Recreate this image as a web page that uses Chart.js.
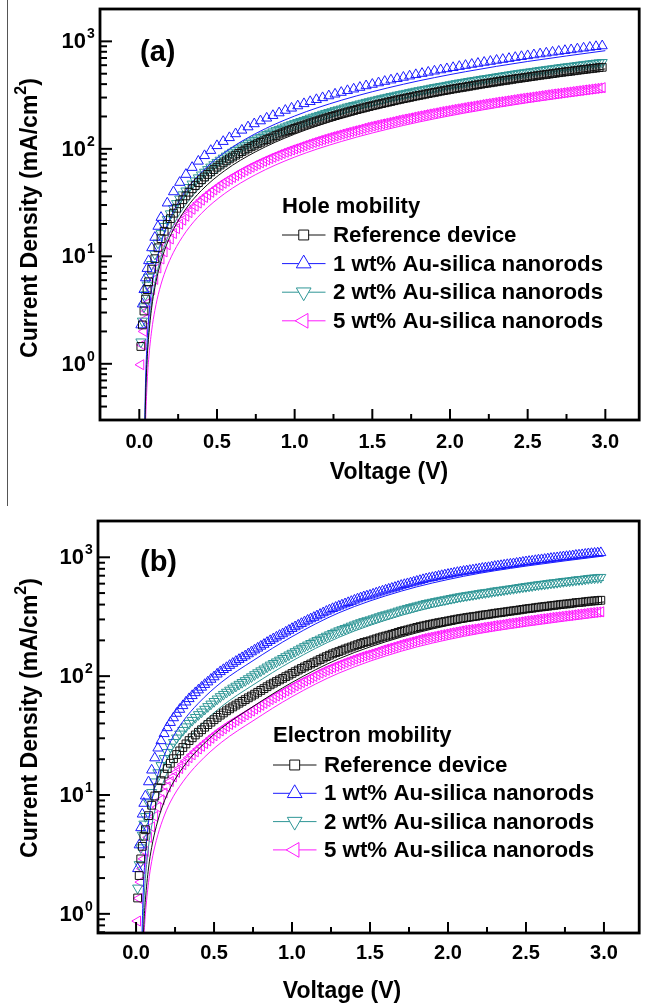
<!DOCTYPE html>
<html>
<head>
<meta charset="utf-8">
<script src="https://cdn.jsdelivr.net/npm/chart.js@4/dist/chart.umd.min.js"></script>
<style>
body { margin: 0; background: #fff; width: 646px; height: 1005px; position: relative; overflow: hidden; }
canvas { display: block; }
#edge { position: absolute; left: 7px; top: 0; width: 1px; height: 506px; background: #555; }
#wrapA { position: absolute; left: 0; top: 0; }
#wrapB { position: absolute; left: 0; top: 500px; }
</style>
</head>
<body>
<div id="edge"></div>
<div id="wrapA"><canvas id="chartA" width="646" height="500"></canvas></div>
<div id="wrapB"><canvas id="chartB" width="646" height="505"></canvas></div>
<script>
// coarse voltage sweep (V), used by the 1 wt% hole device
const voltage = [0.01,0.02,0.03,0.04,0.05,0.06,0.08,0.10,0.12,0.14,
	0.18,0.22,0.26,0.30,0.34,0.38,0.42,0.46,0.50,0.54,0.58,0.62,0.66,0.70,0.74,0.78,0.82,0.86,0.90,0.94,
	0.98,1.02,1.06,1.10,1.14,1.18,1.22,1.26,1.30,1.34,1.38,1.42,1.46,1.50,1.54,1.58,1.62,1.66,1.70,1.74,
	1.78,1.82,1.86,1.90,1.94,1.98,2.02,2.06,2.10,2.14,2.18,2.22,2.26,2.30,2.34,2.38,2.42,2.46,2.50,2.54,
	2.58,2.62,2.66,2.70,2.74,2.78,2.82,2.86,2.90,2.94,2.98];
// fine voltage sweep (V), used by the other devices
const voltageFine = [0.01,0.02,0.03,0.04,0.05,0.06,0.08,0.10,0.12,0.14,
	0.16,0.18,0.20,0.22,0.24,0.26,0.28,0.30,0.32,0.34,0.36,0.38,0.40,0.42,0.44,0.46,0.48,0.50,0.52,0.54,
	0.56,0.58,0.60,0.62,0.64,0.66,0.68,0.70,0.72,0.74,0.76,0.78,0.80,0.82,0.84,0.86,0.88,0.90,0.92,0.94,
	0.96,0.98,1.00,1.02,1.04,1.06,1.08,1.10,1.12,1.14,1.16,1.18,1.20,1.22,1.24,1.26,1.28,1.30,1.32,1.34,
	1.36,1.38,1.40,1.42,1.44,1.46,1.48,1.50,1.52,1.54,1.56,1.58,1.60,1.62,1.64,1.66,1.68,1.70,1.72,1.74,
	1.76,1.78,1.80,1.82,1.84,1.86,1.88,1.90,1.92,1.94,1.96,1.98,2.00,2.02,2.04,2.06,2.08,2.10,2.12,2.14,
	2.16,2.18,2.20,2.22,2.24,2.26,2.28,2.30,2.32,2.34,2.36,2.38,2.40,2.42,2.44,2.46,2.48,2.50,2.52,2.54,
	2.56,2.58,2.60,2.62,2.64,2.66,2.68,2.70,2.72,2.74,2.76,2.78,2.80,2.82,2.84,2.86,2.88,2.90,2.92,2.94,
	2.96,2.98];

// (a) hole only devices, current density mA/cm2
const holeRef = [1.45,2.3,3.1,4.0,4.9,5.8,7.6,9.5,12,14.6,
	17.1,19.8,22.4,25.2,28.0,30.8,33.6,36.5,39.5,42.5,
	45.5,48.5,51.6,54.7,57.8,61.0,64.2,67.5,70.7,74.0,
	77.3,80.6,83.9,87.3,90.7,94.1,97.5,101,104.5,108,
	111.5,115,118.5,122,125.5,129,133,137,140.5,144,
	147.5,151,155,159,162.5,166,170,174,177.5,181,
	185,189,193,197,200.5,204,208,212,216,220,
	224,228,232,236,240,244,248,252,256,260,
	264,268,272,276,280.5,285,289,293,297,301,
	305.5,310,314,318,322.5,327,331,335,339.5,344,
	348,352,356.5,361,365,369,373,377,381.5,386,
	390.5,395,399.5,404,408,412,416.5,421,425.5,430,
	434,438,443,448,452,456,460.5,465,469.5,474,
	479,484,488,492,496.5,501,506,511,515.5,520,
	524,528,533,538,542.5,547,551.5,556,560.5,565,
	569.5,574];
const hole1 = [2.3,3.6,4.9,6.3,7.7,9.1,12,15,19,23,
	31.3,39.8,48.7,57.8,67.1,76.7,86.4,96.5,107,117,127,138,149,160,171,182,193,204,216,228,
	239,251,263,275,287,299,311,323,335,348,360,373,386,398,411,424,437,450,463,476,
	490,503,516,529,543,556,570,584,597,611,624,638,651,666,679,693,708,722,735,749,
	764,778,793,807,821,835,850,865,880,894,908];
const hole2 = [1.6,2.5,3.4,4.4,5.4,6.4,8.4,10.5,13.3,16.3,
	19.0,22.0,24.9,27.9,31.0,34.2,37.4,40.6,43.8,47.1,
	50.4,53.8,57.2,60.7,64.2,67.7,71.3,74.9,78.5,82.1,
	85.7,89.4,93.1,96.9,100,104,108,112,116,120,
	124,128,132,136,140,144,148,152,156,160,
	164,168,172,176,180,184,188,193,197,201,
	205,210,214,218,222,227,231,235,240,245,
	249,253,257,262,266,271,275,280,284,289,
	293,298,302,307,311,316,320,325,329,334,
	339,344,348,353,357,362,367,372,376,381,
	385,390,395,400,405,410,414,419,424,429,
	433,438,443,448,452,457,462,467,472,477,
	482,487,492,497,502,507,511,516,521,526,
	531,537,541,546,551,556,561,567,572,577,
	581,586,591,597,602,607,612,617,622,627,
	632,637];
const hole5 = [0.98,1.5,2.0,2.6,3.1,3.7,4.9,6.1,7.8,9.45,
	11.0,12.8,14.5,16.3,18.1,19.9,21.7,23.6,25.5,27.4,
	29.3,31.3,33.3,35.3,37.3,39.4,41.4,43.5,45.6,47.8,
	49.9,52.0,54.1,56.3,58.5,60.7,62.9,65.2,67.4,69.7,
	71.9,74.2,76.5,78.8,81.1,83.4,85.8,88.2,90.5,92.9,
	95.2,97.6,99.8,102,104.5,107,109.5,112,114.5,117,
	119.5,122,124.5,127,129.5,132,134.5,137,139.5,142,
	144.5,147,149.5,152,155,158,160.5,163,165.5,168,
	170.5,173,175.5,178,181,184,186.5,189,191.5,194,
	197,200,202.5,205,208,211,213.5,216,219,222,
	224.5,227,230,233,235.5,238,241,244,246.5,249,
	252,255,258,261,263.5,266,269,272,274.5,277,
	280,283,286,289,292,295,297.5,300,303,306,
	309,312,315,318,321,324,326.5,329,332,335,
	338,341,344,347,350,353,356,359,362,365,
	368,371];

// (b) electron only devices
const elecRef = [1.36,2.1,2.9,3.7,4.5,5.1,6.7,8.2,9.8,11.5,
	13.2,15.0,16.7,18.5,20.2,21.9,23.5,25.1,26.9,28.7,
	30.3,32.0,33.7,35.4,37.2,39.1,41.0,43.0,45.0,47.0,
	49.0,51.1,53.1,55.1,57.1,59.2,61.3,63.4,65.7,68.0,
	70.5,73.1,75.8,78.5,81.5,84.5,87.3,90.1,93.0,95.8,
	99,102,105.5,109,112.5,116,119.5,123,126.5,130,
	134,138,142,146,150,154,157.5,161,165,169,
	172.5,176,180,184,188,192,195,198,202,206,
	210,214,217.5,221,225,229,233.5,238,241.5,245,
	249,253,257,261,264.5,268,271.5,275,278.5,282,
	285,288,291.5,295,298.5,302,305,308,311,314,
	316.5,319,322.5,326,328.5,331,334.5,338,340.5,343,
	346,349,352,355,358,361,364.5,368,370.5,373,
	376.5,380,382.5,385,388,391,394,397,400,403,
	405,407,411,415,417,419,422.5,426,428,430,
	432.5,435];
const elec1 = [2.4,3.8,5.3,6.9,8.5,9.8,12.9,16.2,20.5,24.8,
	28.6,32.8,36.8,40.7,44.6,48.6,52.5,56.4,60.5,64.6,
	68.5,72.5,76.5,80.6,85.0,89.3,94.0,98.6,104,109,
	113.5,118,123,128,133,138,143,148,154,160,
	166,172,178.5,185,192,199,206,213,220,227,
	235,243,251.5,260,268.5,277,286,295,303.5,312,
	321.5,331,341,351,360.5,370,379,388,397,406,
	415.5,425,435.5,446,455.5,465,472.5,480,490,500,
	510,520,529.5,539,548.5,558,569,580,589.5,599,
	608.5,618,628,638,648.5,659,667,675,684,693,
	701.5,710,718.5,727,736,745,753,761,768,775,
	782,789,798,807,813,819,828.5,838,844.5,851,
	859.5,868,875,882,890.5,899,907.5,916,922.5,929,
	938.5,948,954,960,969,978,984.5,991,1000,1009,
	1014.5,1020,1029.5,1039,1045,1051,1060.5,1070,1075.5,1081,
	1087,1093];
const elec2 = [1.65,2.6,3.6,4.6,5.7,6.6,8.6,10.5,12.9,15.4,
	17.7,20.3,22.8,25.3,27.7,30.2,32.6,35.0,37.5,40.1,
	42.5,45.0,47.5,50.0,52.7,55.5,58.3,61.3,64.3,67.3,
	70.3,73.3,76.3,79.4,82.4,85.5,88.6,91.8,95.3,98.9,
	103,107,111,115,119.5,124,128,132,136.5,141,
	146,151,156,161,166.5,172,177.5,183,188.5,194,
	199.5,205,211,217,223,229,235,241,246.5,252,
	258,264,270,276,282,288,293,298,304,310,
	316.5,323,328.5,334,340,346,353,360,366,372,
	378,384,390,396,402.5,409,414,419,424.5,430,
	435,440,445.5,451,456.5,462,467,472,476.5,481,
	485.5,490,495.5,501,504.5,508,514,520,524,528,
	533,538,542.5,547,552.5,558,563,568,572.5,577,
	582.5,588,592,596,601.5,607,611,615,620.5,626,
	629.5,633,639,645,648.5,652,657.5,663,667,671,
	674.5,678];
const elec5 = [0.87,1.35,1.85,2.4,2.9,3.35,4.4,5.4,6.6,7.9,
	9.1,10.4,11.7,13.0,14.2,15.5,16.7,18.0,19.3,20.6,
	21.8,23.1,24.4,25.7,27.1,28.5,30.0,31.5,33.0,34.6,
	36.1,37.6,39.2,40.8,42.3,43.9,45.5,47.2,49.0,50.8,
	52.8,54.8,56.8,58.9,61.2,63.5,65.7,68.0,70.2,72.5,
	75.0,77.5,80.1,82.8,85.5,88.2,91.0,93.8,96.6,99.5,
	102.7,106,109,112,115,118,121,124,127,130,
	133,136,139,142,145,148,150.5,153,156,159,
	162.5,166,169,172,175,178,181.5,185,188,191,
	194,197,200.5,204,207,210,212.5,215,218,221,
	223.5,226,229,232,234.5,237,240,243,245,247,
	249,251,254,257,259,261,264,267,269,271,
	274,277,279,281,283.5,286,289,292,294,296,
	299,302,304,306,309,312,314,316,318.5,321,
	323,325,328,331,333,335,338,341,343,345,
	346.5,348];

// fitted curves (solid lines)
const fitVoltage = [0.035,0.04,0.05,0.06,0.08,0.1,0.13,0.17,0.22,0.3,0.4,0.55,0.75,1.0,1.3,1.7,2.1,2.5,3.0];
const holeRefFit = [0.19,0.45,1.07,1.77,3.36,5.11,7.98,12.2,17.8,27.7,41.0,62.7,94.1,137,192,270,353,440,554];
const hole1Fit = [0.28,0.66,1.58,2.62,4.96,7.56,11.8,18.0,26.3,40.9,60.6,92.7,139,202,283,399,522,650,819];
const hole2Fit = [0.21,0.49,1.17,1.95,3.69,5.62,8.77,13.4,19.6,30.4,45.0,68.9,103,150,210,296,388,483,608];
const hole5Fit = [0.12,0.27,0.65,1.09,2.06,3.13,4.89,7.45,10.9,16.9,25.1,38.4,57.7,83.8,117,165,216,269,339];
const elecRefFit = [0.14,0.34,0.81,1.31,2.43,3.62,5.46,8.09,11.5,17.0,24.3,36.7,55.5,88.5,140,213,284,346,421];
const elec1Fit = [0.35,0.83,1.98,3.18,5.91,8.81,13.3,19.7,28.0,41.5,59.2,89.4,135,215,341,519,692,843,1026];
const elec2Fit = [0.22,0.52,1.23,1.99,3.68,5.49,8.30,12.3,17.5,25.9,36.9,55.8,84.3,134,212,324,432,525,640];
const elec5Fit = [0.11,0.26,0.62,0.99,1.84,2.75,4.15,6.14,8.74,12.9,18.5,27.9,42.1,67.2,106,162,216,263,320];

const seriesNames = ["Reference device", "1 wt% Au-silica nanorods", "2 wt% Au-silica nanorods", "5 wt% Au-silica nanorods"];
const seriesColors = ["#111111", "#1a1aff", "#2f9696", "#ff1aff"];
const markerStyles = [
	{pointStyle: "rect", rotation: 0, radius: 5.5},
	{pointStyle: "triangle", rotation: 0, radius: 5.8},
	{pointStyle: "triangle", rotation: 180, radius: 5.8},
	{pointStyle: "triangle", rotation: 270, radius: 5.8}
];
const xTickValues = [0, 0.5, 1, 1.5, 2, 2.5, 3];
const xTickLabels = ["0.0", "0.5", "1.0", "1.5", "2.0", "2.5", "3.0"];
const xMinorTicks = [0.25, 0.75, 1.25, 1.75, 2.25, 2.75];
const yDecades = [0, 1, 2, 3];

const FONT = '"Liberation Sans", Arial, sans-serif';

const drawMarker = (ctx, i, cx, cy, r) => {
	ctx.beginPath();
	if (i == 0) {
		let s = r * Math.SQRT1_2;
		ctx.rect(cx - s, cy - s, 2 * s, 2 * s);
	}
	else {
		let rad = markerStyles[i].rotation * Math.PI / 180;
		for (let k = 0; k < 3; k++) {
			let px = cx + Math.sin(rad) * r, py = cy - Math.cos(rad) * r;
			if (k == 0) ctx.moveTo(px, py); else ctx.lineTo(px, py);
			rad += 2 * Math.PI / 3;
		}
		ctx.closePath();
	}
	ctx.fillStyle = "#fff";
	ctx.fill();
	ctx.stroke();
}

// frame, inward ticks, labels, legend
const decor = {
	id: "decor",
	afterDraw(chart, args, opt) {
		const ctx = chart.ctx, a = chart.chartArea;
		const x = chart.scales.x, y = chart.scales.y;
		const seg = (x1, y1, x2, y2) => {
			ctx.beginPath(); ctx.moveTo(x1, y1); ctx.lineTo(x2, y2); ctx.stroke();
		};
		ctx.save();
		ctx.strokeStyle = "#000";
		ctx.fillStyle = "#000";
		ctx.lineWidth = 2;
		xTickValues.forEach(v => { let p = x.getPixelForValue(v); seg(p, a.bottom, p, a.bottom - 11); });
		xMinorTicks.forEach(v => { let p = x.getPixelForValue(v); seg(p, a.bottom, p, a.bottom - 6); });
		for (let d = -1; d <= 3; d++) {
			for (let m = 1; m <= 9; m++) {
				let v = m * Math.pow(10, d);
				if (v <= y.min * 1.01 || v >= y.max * 0.99) continue;
				let p = y.getPixelForValue(v);
				seg(a.left, p, a.left + (m == 1 ? 12 : 7), p);
			}
		}
		ctx.lineWidth = 2.8;
		ctx.strokeRect(a.left, a.top, a.right - a.left, a.bottom - a.top);

		// tick labels
		ctx.textBaseline = "middle";
		ctx.textAlign = "center";
		ctx.font = "bold 20px " + FONT;
		xTickValues.forEach((v, i) => ctx.fillText(xTickLabels[i], x.getPixelForValue(v), a.bottom + opt.xLabelGap));
		yDecades.forEach(d => {
			let p = y.getPixelForValue(Math.pow(10, d));
			ctx.font = "bold 22px " + FONT;
			ctx.textAlign = "right";
			ctx.fillText("10", a.left - 14, p + 1);
			ctx.font = "bold 14px " + FONT;
			ctx.textAlign = "left";
			ctx.fillText(String(d), a.left - 13, p - 7);
		});

		// axis titles
		ctx.font = "bold 23px " + FONT;
		ctx.textAlign = "center";
		ctx.fillText("Voltage (V)", opt.xTitleX, opt.xTitleY);

		ctx.save();
		ctx.translate(opt.yTitleX, opt.yTitleY);
		ctx.rotate(-Math.PI / 2);
		let big = "bold 23px " + FONT, small = "bold 16px " + FONT;
		let t1 = "Current Density (mA/cm", t3 = ")";
		ctx.font = big;
		let w1 = ctx.measureText(t1).width, w3 = ctx.measureText(t3).width;
		ctx.font = small;
		let w2 = ctx.measureText("2").width;
		let sx = -(w1 + w2 + w3) / 2;
		ctx.textAlign = "left";
		ctx.font = big; ctx.fillText(t1, sx, 0);
		ctx.font = small; ctx.fillText("2", sx + w1, -9);
		ctx.font = big; ctx.fillText(t3, sx + w1 + w2, 0);
		ctx.restore();

		// panel letter
		ctx.font = "bold 29px " + FONT;
		ctx.textAlign = "left";
		ctx.fillText(opt.panel, 140, opt.panelY);

		// legend
		let L = opt.legendX;
		ctx.font = "bold 22px " + FONT;
		ctx.fillText(opt.legendTitle, L, opt.legendTitleY);
		seriesNames.forEach((name, i) => {
			let cy = opt.legendRowY + i * opt.legendStep;
			ctx.strokeStyle = seriesColors[i];
			ctx.lineWidth = 1;
			seg(L, cy, L + 43.5, cy);
			drawMarker(ctx, i, L + 21.7, cy, i == 0 ? 7 : 8.5);
			ctx.fillStyle = "#000";
			ctx.font = "bold 22.3px " + FONT;
			ctx.fillText(name, L + 51, cy + 1);
		});
		ctx.restore();
	}
};

const makeDatasets = (volts, measured, fits) => {
	let sets = [];
	measured.forEach((vals, i) => {
		sets.push({
			label: seriesNames[i],
			data: volts[i].map((v, k) => ({x: v, y: vals[k]})),
			showLine: false,
			pointStyle: markerStyles[i].pointStyle,
			pointRotation: markerStyles[i].rotation,
			pointRadius: markerStyles[i].radius,
			pointBorderColor: seriesColors[i],
			pointBackgroundColor: "rgba(0,0,0,0)",
			pointBorderWidth: 1,
			borderColor: seriesColors[i]
		});
		sets.push({
			label: seriesNames[i] + " fit",
			data: fitVoltage.map((v, k) => ({x: v, y: fits[i][k]})),
			pointRadius: 0,
			borderColor: seriesColors[i],
			borderWidth: 1,
			cubicInterpolationMode: "monotone",
			fill: false
		});
	});
	return sets;
}

const makeChart = (id, volts, measured, fits, xMin, xMax, yMin, yMax, pad, deco) => {
	return new Chart(document.getElementById(id), {
		type: "line",
		data: {datasets: makeDatasets(volts, measured, fits)},
		options: {
			responsive: false,
			animation: false,
			devicePixelRatio: 1,
			layout: {padding: pad},
			scales: {
				x: {type: "linear", min: xMin, max: xMax, display: false},
				y: {type: "logarithmic", min: yMin, max: yMax, display: false}
			},
			plugins: {legend: {display: false}, tooltip: {enabled: false}, decor: deco}
		},
		plugins: [decor]
	});
}

makeChart("chartA", [voltageFine, voltage, voltageFine, voltageFine],
	[holeRef, hole1, hole2, hole5], [holeRefFit, hole1Fit, hole2Fit, hole5Fit],
	-0.253, 3.218, 0.3, 2000, {left: 100, top: 9, right: 2, bottom: 80},
	{panel: "(a)", panelY: 53, xLabelGap: 22, xTitleX: 389, xTitleY: 473, yTitleX: 31, yTitleY: 218,
	 legendTitle: "Hole mobility", legendX: 282, legendTitleY: 207, legendRowY: 235, legendStep: 28.6});

makeChart("chartB", [voltageFine, voltageFine, voltageFine, voltageFine],
	[elecRef, elec1, elec2, elec5], [elecRefFit, elec1Fit, elec2Fit, elec5Fit],
	-0.244, 3.226, 0.69, 2020, {left: 98, top: 21, right: 2, bottom: 72},
	{panel: "(b)", panelY: 63, xLabelGap: 20, xTitleX: 342, xTitleY: 492, yTitleX: 31, yTitleY: 218,
	 legendTitle: "Electron mobility", legendX: 273, legendTitleY: 236, legendRowY: 265, legendStep: 28.3});
</script>
</body>
</html>
